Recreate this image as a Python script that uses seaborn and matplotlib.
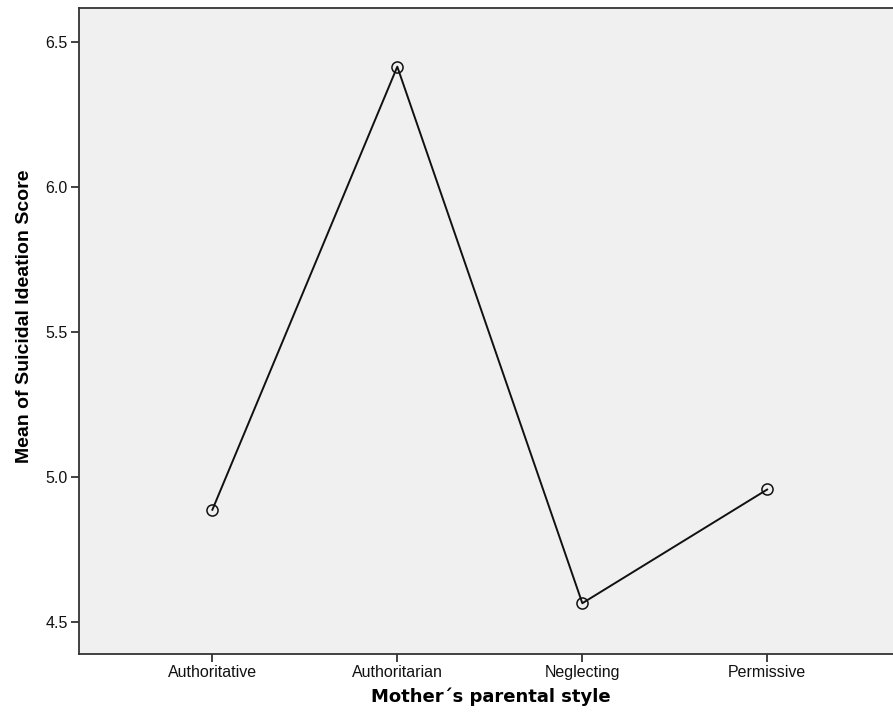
import matplotlib
matplotlib.use("Agg")
import matplotlib.pyplot as plt
import pandas as pd
import seaborn as sns

styles = ["Authoritative", "Authoritarian", "Neglecting", "Permissive"]
mean_scores = [4.887, 6.414, 4.566, 4.958]
y_ticks = [4.5, 5.0, 5.5, 6.0, 6.5]

sns.set_style("white")
plt.rcParams["font.family"] = ["Liberation Sans", "DejaVu Sans"]

frame = pd.DataFrame({"style": styles, "score": mean_scores})

fig = plt.figure(figsize=(8.93, 7.23), dpi=100)
ax = fig.add_axes([0.0881, 0.095, 0.9208, 0.8935])
ax.set_facecolor("#f0f0f0")

sns.lineplot(
    data=frame, x="style", y="score", sort=False, ax=ax,
    color="#111111", linewidth=1.4, marker="o", markersize=8,
    markerfacecolor="none", markeredgecolor="#111111", markeredgewidth=1.1,
)

ax.set_xlim(-0.722, 3.722)
ax.set_ylim(4.39, 6.615)
ax.set_yticks(y_ticks)
ax.set_yticklabels([f"{v:.1f}" for v in y_ticks])

for side in ("left", "bottom", "top", "right"):
    ax.spines[side].set_color("#333333")
    ax.spines[side].set_linewidth(1.3)

ax.tick_params(axis="both", direction="out", length=6, width=1.3, color="#333333",
               labelsize=11.5, labelcolor="#111111", pad=2, left=True, bottom=True)

ax.set_xlabel("Mother´s parental style", fontsize=13, fontweight="bold",
              family=["DejaVu Sans"], color="black")
ax.set_ylabel("Mean of Suicidal Ideation Score", fontsize=14, fontweight="bold", color="black")
ax.xaxis.set_label_coords(0.5016, -0.052)
ax.yaxis.set_label_coords(-0.056, 0.524)

fig.savefig("out.png", dpi=100)
